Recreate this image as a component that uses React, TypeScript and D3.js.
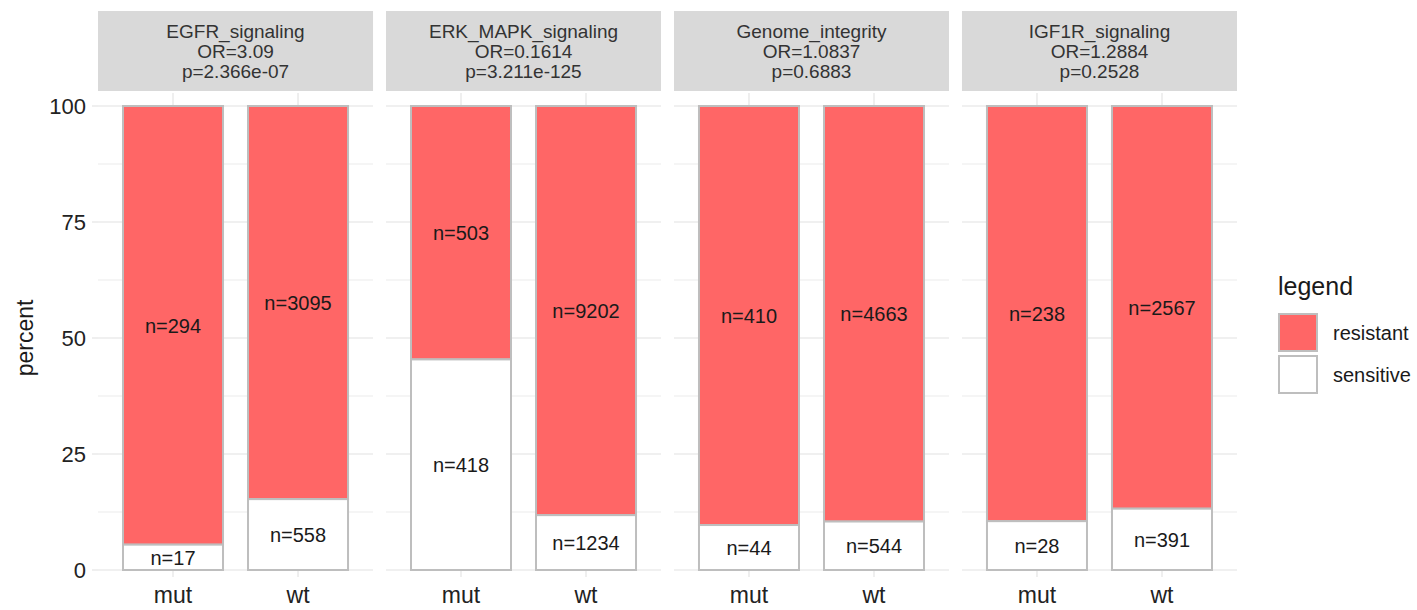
import React from "react";
import * as d3 from "d3";

const facets = ["EGFR_signaling", "ERK_MAPK_signaling", "Genome_integrity", "IGF1R_signaling"];
const oddsRatios = ["3.09", "0.1614", "1.0837", "1.2884"];
const pValues = ["2.366e-07", "3.211e-125", "0.6883", "0.2528"];
const groups = ["mut", "wt"];
// counts per facet: [mut, wt]
const resistantN = [[294, 3095], [503, 9202], [410, 4663], [238, 2567]];
const sensitiveN = [[17, 558], [418, 1234], [44, 544], [28, 391]];
const yTicks = [0, 25, 50, 75, 100];
const yMinor = [12.5, 37.5, 62.5, 87.5];
const legendItems = ["resistant", "sensitive"];

const RED = "#FF6666";
const OUTLINE = "#BEBEBE";
const GRID = "#EBEBEB";
const FONT = "'Liberation Sans', Arial, Helvetica, sans-serif";

export default function App() {
  const W = 1417, H = 610;
  const fx = d3.scaleBand<string>().domain(facets).range([98, 1237]).paddingInner(0.045).paddingOuter(0);
  const y = d3.scaleLinear().domain([0, 100]).range([570, 106]);
  const panelTop = 93;
  const stripTop = 11, stripBottom = 91;

  return (
    <svg width={W} height={H} style={{ position: "absolute", left: 0, top: 0, background: "#fff" }} fontFamily={FONT}>
      <rect x={0} y={0} width={W} height={H} fill="#fff" />
      {facets.map((f, fi) => {
        const x0 = fx(f)!;
        const bw = fx.bandwidth();
        const x = d3.scaleBand<string>().domain(groups).range([x0, x0 + bw]).paddingInner(0.2).paddingOuter(0.2);
        return (
          <g key={f}>
            {/* strip */}
            <rect x={x0} y={stripTop} width={bw} height={stripBottom - stripTop} fill="#D9D9D9" />
            <text x={x0 + bw / 2} textAnchor="middle" fontSize={19} fill="#333">
              <tspan x={x0 + bw / 2} y={38}>{f}</tspan>
              <tspan x={x0 + bw / 2} y={58}>{"OR=" + oddsRatios[fi]}</tspan>
              <tspan x={x0 + bw / 2} y={78}>{"p=" + pValues[fi]}</tspan>
            </text>
            {/* grid */}
            {yMinor.map(v => (
              <line key={"mi" + v} x1={x0} x2={x0 + bw} y1={y(v)} y2={y(v)} stroke={GRID} strokeWidth={1.2} />
            ))}
            {yTicks.map(v => (
              <line key={"ma" + v} x1={x0} x2={x0 + bw} y1={y(v)} y2={y(v)} stroke={GRID} strokeWidth={1.6} />
            ))}
            {groups.map(g => {
              const cx = x(g)! + x.bandwidth() / 2;
              return (
                <g key={"vg" + g}>
                  <line x1={cx} x2={cx} y1={panelTop} y2={y(0)} stroke={GRID} strokeWidth={1.6} />
                  <line x1={cx} x2={cx} y1={y(0)} y2={y(0) + 7} stroke={GRID} strokeWidth={1.6} />
                </g>
              );
            })}
            {fi === 0 && yTicks.map(v => (
              <g key={"yt" + v}>
                <line x1={x0 - 6} x2={x0} y1={y(v)} y2={y(v)} stroke={GRID} strokeWidth={1.6} />
                <text x={x0 - 12} y={y(v)} dy="0.36em" textAnchor="end" fontSize={22} fill="#222">{v}</text>
              </g>
            ))}
            {/* bars */}
            {groups.map((g, gi) => {
              const r = resistantN[fi][gi];
              const s = sensitiveN[fi][gi];
              const tot = r + s;
              const sPct = (s / tot) * 100;
              const bx = x(g)!;
              const w = x.bandwidth();
              return (
                <g key={"bar" + g}>
                  <rect x={bx} y={y(100)} width={w} height={y(sPct) - y(100)} fill={RED} stroke={OUTLINE} strokeWidth={2} />
                  <rect x={bx} y={y(sPct)} width={w} height={y(0) - y(sPct)} fill="#fff" stroke={OUTLINE} strokeWidth={2} />
                  <text x={bx + w / 2} y={y((sPct + 100) / 2)} dy="0.36em" textAnchor="middle" fontSize={20} fill="#1a1a1a">{"n=" + r}</text>
                  <text x={bx + w / 2} y={y(sPct / 2)} dy="0.36em" textAnchor="middle" fontSize={20} fill="#1a1a1a">{"n=" + s}</text>
                  <text x={bx + w / 2} y={603} textAnchor="middle" fontSize={23} fill="#222">{g}</text>
                </g>
              );
            })}
          </g>
        );
      })}
      {/* y axis title */}
      <text transform={`translate(33,${y(50)}) rotate(-90)`} textAnchor="middle" fontSize={23} fill="#1a1a1a">percent</text>
      {/* legend */}
      <text x={1278} y={295} fontSize={25} fill="#1a1a1a">legend</text>
      {legendItems.map((it, i) => (
        <g key={it}>
          <rect x={1279} y={314 + i * 42} width={38} height={37} fill={i === 0 ? RED : "#fff"} stroke={OUTLINE} strokeWidth={2} />
          <text x={1333} y={314 + i * 42 + 18.5} dy="0.36em" fontSize={20} fill="#1a1a1a">{it}</text>
        </g>
      ))}
    </svg>
  );
}
